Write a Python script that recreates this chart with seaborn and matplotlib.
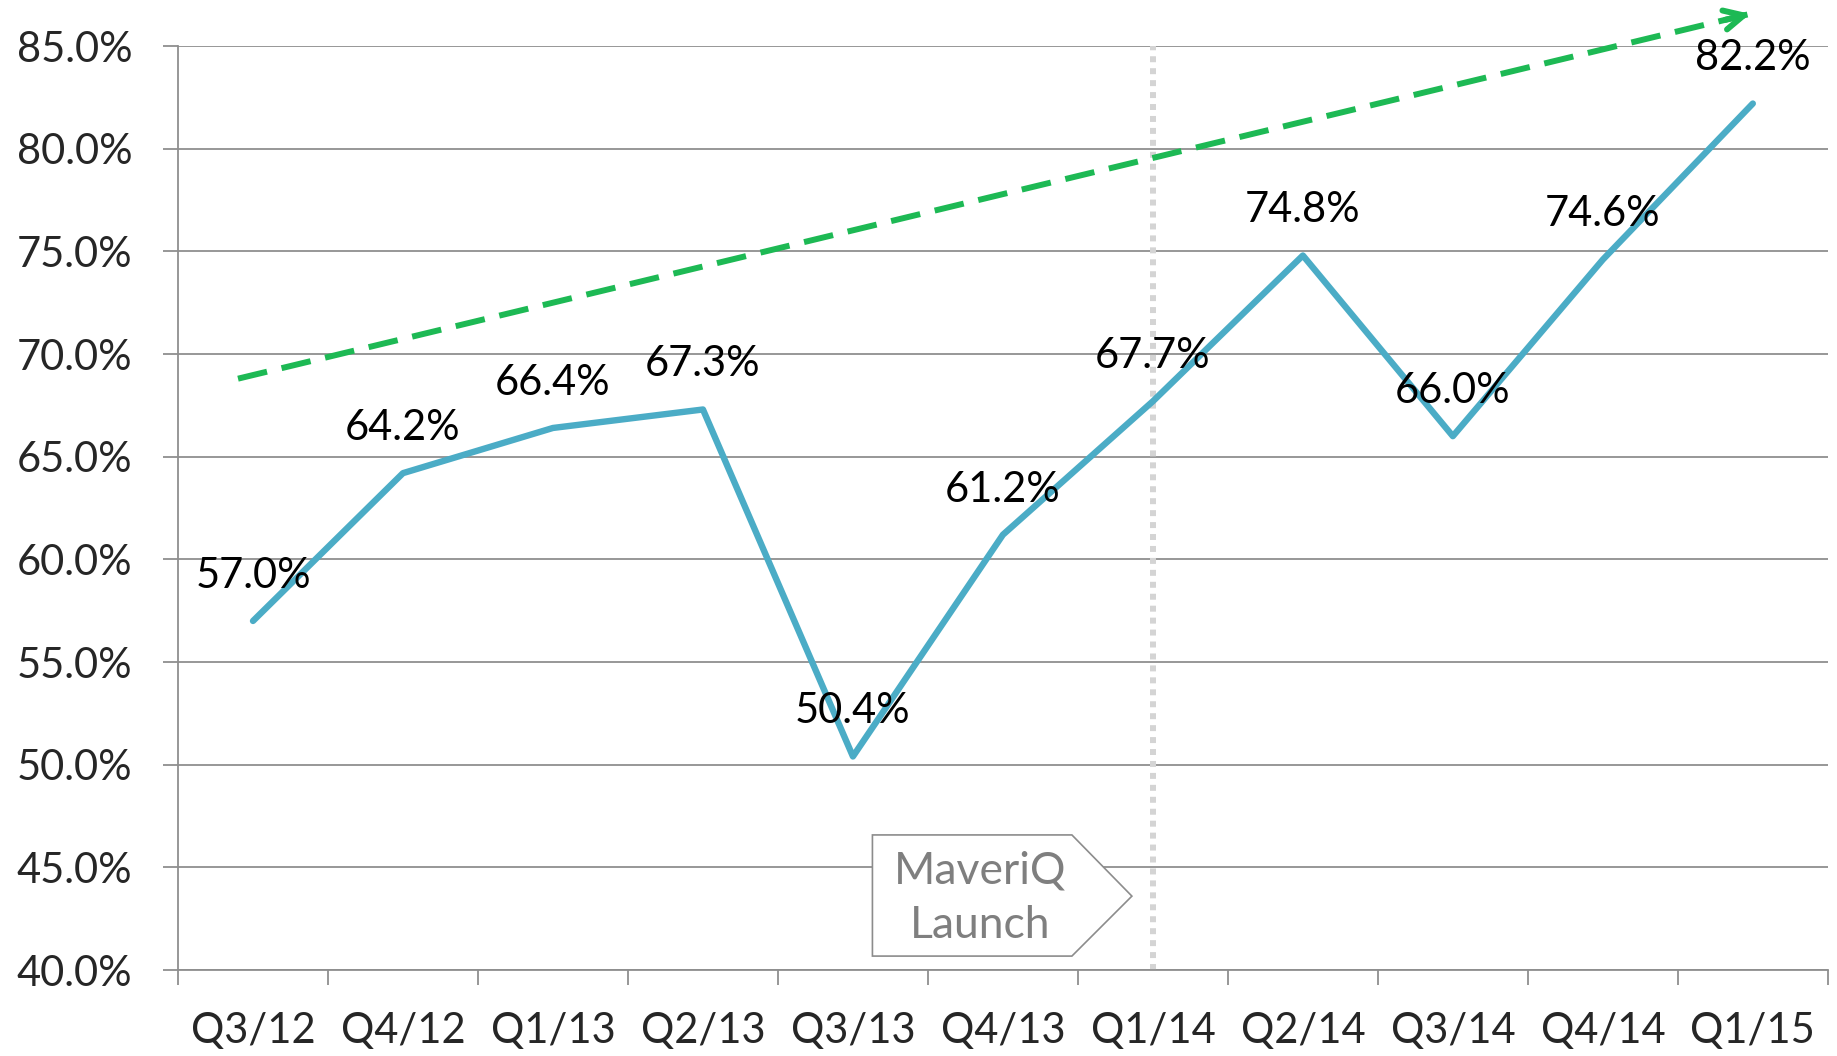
import matplotlib
matplotlib.use('Agg')
import matplotlib.pyplot as plt
import seaborn as sns
import pandas as pd
from matplotlib.patches import Polygon
from matplotlib.ticker import FixedLocator, NullFormatter

sns.set_style('white')
plt.rcParams['font.family'] = ['Lato', 'DejaVu Sans']

quarters = ['Q3/12', 'Q4/12', 'Q1/13', 'Q2/13', 'Q3/13', 'Q4/13',
            'Q1/14', 'Q2/14', 'Q3/14', 'Q4/14', 'Q1/15']
share = [57.0, 64.2, 66.4, 67.3, 50.4, 61.2, 67.7, 74.8, 66.0, 74.6, 82.2]
y_ticks = [40, 45, 50, 55, 60, 65, 70, 75, 80, 85]

# trend arrow (start, end) in data coords
trend_x = [-0.1, 10.0]
trend_y = [68.8, 86.6]
launch_idx = 6

df = pd.DataFrame({'pos': range(len(quarters)), 'share': share})

fig = plt.figure(figsize=(18.37, 10.56), dpi=100)
ax = fig.add_axes([0.0969, 0.0814, 0.8981, 0.875])

# gridlines
for y in y_ticks:
    ax.axhline(y, color='#8f8f8f', lw=1.3, zorder=0)

# launch marker
ax.axvline(launch_idx, color='#d4d4d4', lw=4.3, linestyle=(0, (1, 1)), zorder=1)

sns.lineplot(data=df, x='pos', y='share', ax=ax, color='#4bacc6', lw=4.6, zorder=3)

for i, v in enumerate(share):
    ax.text(i, v + 2.2, f'{v:.1f}%', ha='center', va='center', fontsize=30, color='black', zorder=5)

# dashed trend + open arrowhead
ax.plot(trend_x, trend_y, color='#1db954', lw=4.3, dashes=(5, 2.5), clip_on=False, zorder=2)
dx = (trend_x[1] - trend_x[0]) * 0.02
dy = (trend_y[1] - trend_y[0]) * 0.02
ax.annotate('', xy=(trend_x[1], trend_y[1]), xytext=(trend_x[1] - dx, trend_y[1] - dy),
            arrowprops=dict(arrowstyle='->,head_length=1.4,head_width=0.7', color='#1db954', lw=4.3),
            annotation_clip=False, zorder=2)

# callout box
callout = Polygon([(4.13, 46.58), (5.46, 46.58), (5.86, 43.6), (5.46, 40.68), (4.13, 40.68)],
                  closed=True, facecolor='white', edgecolor='#8c8c8c', lw=1.2, zorder=4)
ax.add_patch(callout)
ax.text(4.85, 43.5, 'MaveriQ\nLaunch', ha='center', va='center', fontsize=32,
        color='#7f7f7f', linespacing=1.4, zorder=5)

ax.set_xlim(-0.5, 10.5)
ax.set_ylim(40, 85)
ax.set_xticks(range(len(quarters)))
ax.set_xticklabels(quarters, fontsize=30)
ax.xaxis.set_minor_locator(FixedLocator([i - 0.5 for i in range(len(quarters) + 1)]))
ax.xaxis.set_minor_formatter(NullFormatter())
ax.tick_params(axis='x', which='major', length=0, pad=30)
ax.tick_params(axis='x', which='minor', length=11, width=1.3, color='#8f8f8f', direction='out', bottom=True)
ax.set_yticks(y_ticks)
ax.set_yticklabels([f'{y:.1f}%' for y in y_ticks], fontsize=30)
ax.tick_params(axis='y', length=11, width=1.3, color='#8f8f8f', direction='out', left=True, pad=22)
ax.set_xlabel('')
ax.set_ylabel('')

for s in ['top', 'right']:
    ax.spines[s].set_visible(False)
for s in ['left', 'bottom']:
    ax.spines[s].set_color('#8f8f8f')
    ax.spines[s].set_linewidth(1.3)

fig.savefig('out.png', dpi=100)
